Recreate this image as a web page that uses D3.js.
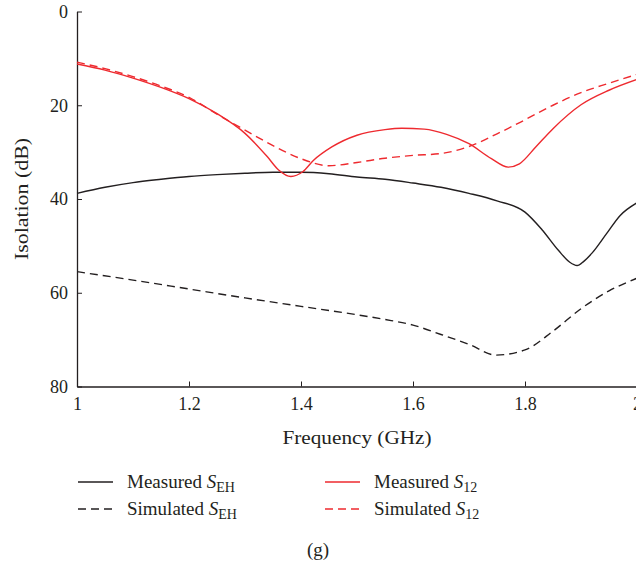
<!DOCTYPE html>
<html>
<head>
<meta charset="utf-8">
<script src="https://cdn.jsdelivr.net/npm/d3@7"></script>
<style>
  html, body { margin: 0; padding: 0; background: #fff; overflow: hidden; }
  svg { display: block; }
  svg text { font-family: "Liberation Serif", "DejaVu Serif", serif; fill: #231f20; }
  .tick-label { font-size: 18px; }
  .axis-label { font-size: 19.5px; }
  .legend-text { font-size: 19px; }
</style>
</head>
<body>
<div id="chart"></div>
<script>
const X_TICKS = [1, 1.2, 1.4, 1.6, 1.8, 2];
const Y_TICKS = [0, 20, 40, 60, 80];

const FREQ_MEAS_EH = [1.0, 1.05, 1.1, 1.15, 1.2, 1.25, 1.3, 1.35, 1.4, 1.45, 1.5, 1.55, 1.6, 1.65, 1.7, 1.75, 1.8, 1.83, 1.86, 1.88, 1.893, 1.905, 1.92, 1.945, 1.97, 2.0];
const MEAS_EH = [38.8, 37.5, 36.5, 35.8, 35.2, 34.8, 34.5, 34.3, 34.3, 34.6, 35.3, 35.8, 36.6, 37.5, 38.8, 40.4, 42.8, 46.5, 51.0, 53.5, 54.2, 53.3, 51.5, 47.5, 43.5, 40.8];

const FREQ_SIM_EH = [1.0, 1.1, 1.2, 1.3, 1.4, 1.5, 1.55, 1.6, 1.65, 1.7, 1.748, 1.8, 1.85, 1.9, 1.95, 2.0];
const SIM_EH = [55.5, 57.3, 59.2, 61.1, 62.9, 64.7, 65.7, 66.9, 68.9, 71.0, 73.3, 72.2, 68.2, 63.4, 59.6, 56.9];

const FREQ_MEAS_12 = [1.0, 1.05, 1.1, 1.15, 1.2, 1.25, 1.3, 1.34, 1.36, 1.382, 1.403, 1.422, 1.455, 1.5, 1.55, 1.58, 1.62, 1.66, 1.7, 1.74, 1.77, 1.79, 1.82, 1.85, 1.9, 1.95, 2.0];
const MEAS_12 = [11.2, 12.5, 14.2, 16.2, 18.6, 21.8, 26.0, 31.0, 33.8, 35.2, 34.2, 31.8, 28.9, 26.4, 25.2, 24.9, 25.1, 26.2, 28.2, 31.4, 33.2, 32.5, 28.8, 25.0, 19.9, 16.8, 14.5];

const FREQ_SIM_12 = [1.0, 1.05, 1.1, 1.15, 1.2, 1.25, 1.3, 1.35, 1.4, 1.45, 1.5, 1.55, 1.6, 1.65, 1.7, 1.75, 1.8, 1.85, 1.9, 1.95, 2.0];
const SIM_12 = [10.8, 12.2, 13.9, 15.9, 18.3, 21.9, 25.3, 28.6, 31.4, 32.9, 32.2, 31.3, 30.7, 30.3, 28.8, 26.1, 23.1, 20.0, 17.3, 15.3, 13.4];

const SERIES = [
  { name: "Measured", sub: "EH", x: FREQ_MEAS_EH, y: MEAS_EH, color: "#231f20", dash: null },
  { name: "Simulated", sub: "EH", x: FREQ_SIM_EH, y: SIM_EH, color: "#231f20", dash: "8,5" },
  { name: "Measured", sub: "12", x: FREQ_MEAS_12, y: MEAS_12, color: "#ee2a2f", dash: null },
  { name: "Simulated", sub: "12", x: FREQ_SIM_12, y: SIM_12, color: "#ee2a2f", dash: "8,5" },
];

const width = 636;
const height = 569;
const margin = { top: 11.5, right: -1, bottom: 182.5, left: 77 };

const svg = d3.select("#chart").append("svg").attr("width", width).attr("height", height);

const x = d3.scaleLinear().domain([1, 2]).range([margin.left, width - margin.right]);
const y = d3.scaleLinear().domain([0, 80]).range([margin.top, height - margin.bottom]);

function styleAxis(g) {
  g.attr("font-family", null).attr("font-size", null);
  g.select(".domain").attr("stroke", "#231f20").attr("stroke-width", 1.3);
  g.selectAll("line").attr("stroke", "#231f20").attr("stroke-width", 1);
  g.selectAll("text").attr("class", "tick-label").attr("fill", null);
}

// axes: ticks point inward
svg.append("g")
  .attr("transform", `translate(0, ${y(80)})`)
  .call(d3.axisBottom(x).tickValues(X_TICKS).tickSize(-5).tickSizeOuter(0).tickPadding(11).tickFormat(d3.format("")))
  .call(styleAxis);

svg.append("g")
  .attr("transform", `translate(${x(1)}, 0)`)
  .call(d3.axisLeft(y).tickValues(Y_TICKS).tickSize(-5).tickSizeOuter(0).tickPadding(9))
  .call(styleAxis);

svg.append("text")
  .attr("class", "axis-label")
  .attr("x", 357)
  .attr("y", 444)
  .attr("text-anchor", "middle")
  .attr("textLength", 149)
  .attr("lengthAdjust", "spacingAndGlyphs")
  .text("Frequency (GHz)");

svg.append("text")
  .attr("class", "axis-label")
  .attr("transform", "translate(28, 199) rotate(-90)")
  .attr("text-anchor", "middle")
  .attr("textLength", 122)
  .attr("lengthAdjust", "spacingAndGlyphs")
  .text("Isolation (dB)");

const line = d3.line()
  .x((d) => x(d[0]))
  .y((d) => y(d[1]))
  .curve(d3.curveMonotoneX);

svg.append("g")
  .selectAll("path")
  .data(SERIES)
  .join("path")
  .attr("d", (s) => line(s.x.map((v, i) => [v, s.y[i]])))
  .attr("fill", "none")
  .attr("stroke", (s) => s.color)
  .attr("stroke-width", 1.4)
  .attr("stroke-dasharray", (s) => s.dash);

// legend
const legendPos = [
  { lx: 78, ly: 482 },
  { lx: 78, ly: 509 },
  { lx: 325, ly: 482 },
  { lx: 325, ly: 509 },
];

const legend = svg.append("g")
  .selectAll("g")
  .data(SERIES)
  .join("g")
  .attr("transform", (s, i) => `translate(${legendPos[i].lx}, ${legendPos[i].ly})`);

legend.append("line")
  .attr("x1", 0)
  .attr("x2", 35)
  .attr("y1", 0)
  .attr("y2", 0)
  .attr("stroke", (s) => s.color)
  .attr("stroke-width", 1.4)
  .attr("stroke-dasharray", (s) => s.dash);

const legendText = legend.append("text")
  .attr("class", "legend-text")
  .attr("x", 49)
  .attr("y", 6);

legendText.append("tspan").text((s) => s.name + " ");
legendText.append("tspan").attr("font-style", "italic").text("S");
legendText.append("tspan").attr("font-size", "14px").attr("dy", 4).text((s) => s.sub);

svg.append("text")
  .attr("class", "legend-text")
  .attr("x", 318)
  .attr("y", 556)
  .attr("text-anchor", "middle")
  .text("(g)");
</script>
</body>
</html>
